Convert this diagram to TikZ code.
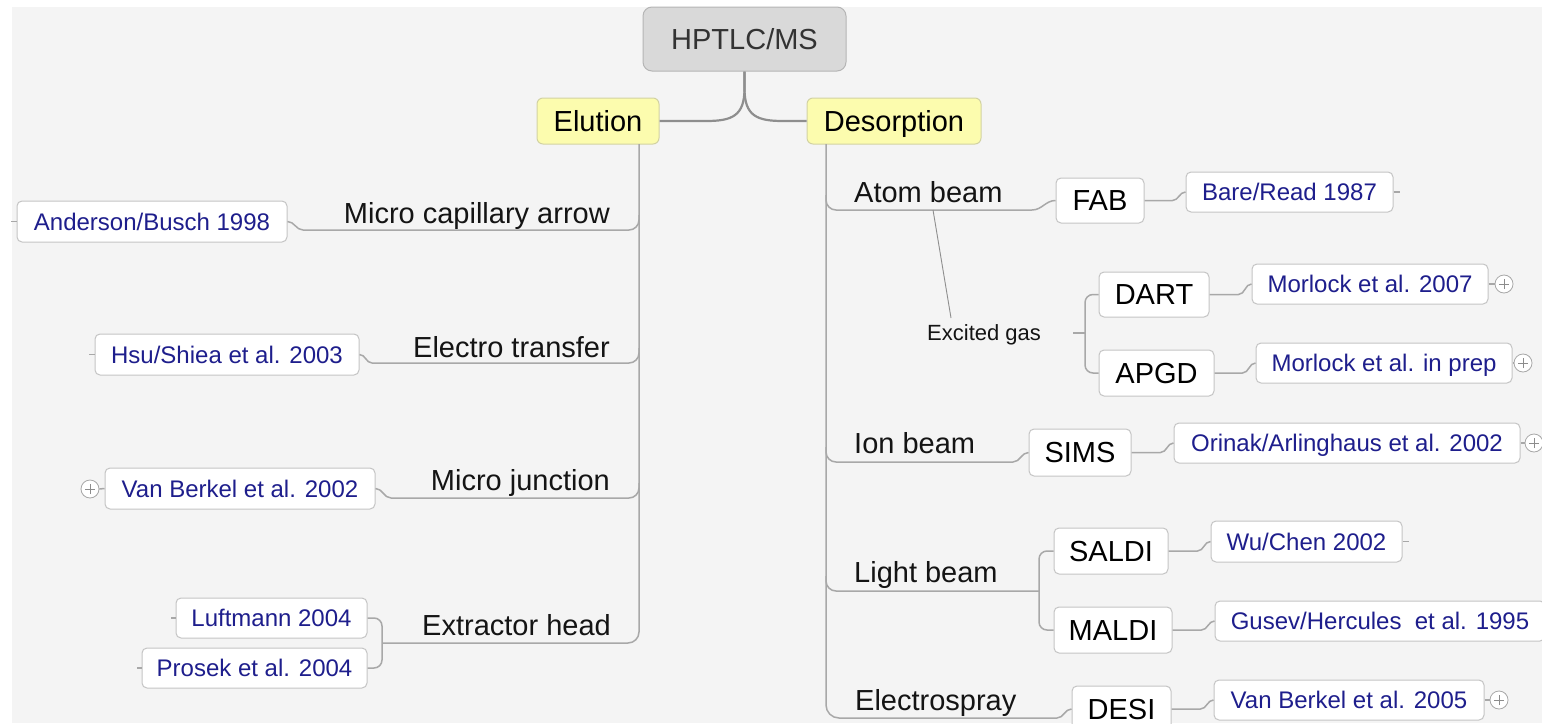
\documentclass[tikz,border=0pt]{standalone}
\usepackage{fontspec}
\setmainfont{Liberation Sans}
\definecolor{bgC}{HTML}{F4F4F4}
\definecolor{lineC}{HTML}{A8A8A8}
\definecolor{topLineC}{HTML}{8E8E8E}
\definecolor{boxB}{HTML}{C4C4C4}
\definecolor{navy}{HTML}{1E1E8C}
\definecolor{topF}{HTML}{D9D9D9}
\definecolor{topB}{HTML}{B5B5B5}
\definecolor{yelF}{HTML}{FCFCAE}
\definecolor{yelB}{HTML}{D2D2A2}
\begin{document}
\begin{tikzpicture}[x=1pt,y=-1pt,
  conn/.style={draw=lineC, line width=1.5pt},
  topconn/.style={draw=topLineC, line width=2.2pt},
  relconn/.style={draw=topLineC, line width=0.9pt},
  box/.style={draw=boxB, fill=white, rounded corners=5pt, line width=1pt, inner sep=0pt, text=black, font=\fontsize{29}{32}\selectfont, text height=20.8pt, text depth=0pt},
  refbox/.style={box, text=navy, font=\fontsize{24}{27}\selectfont, text height=17.2pt, text depth=0pt},
  topic/.style={inner sep=0pt, text=black!92, font=\fontsize{29}{32}\selectfont},
  plusc/.style={circle, draw=boxB!85!black, fill=white, minimum size=18pt, inner sep=0pt, line width=0.8pt,
    path picture={\draw[black!45, line width=0.9pt] ([xshift=-5pt]path picture bounding box.center) -- ([xshift=5pt]path picture bounding box.center) ([yshift=-5pt]path picture bounding box.center) -- ([yshift=5pt]path picture bounding box.center);}},
]
\useasboundingbox (0,0) rectangle (1542,723);
\clip (0,0) rectangle (1542,723);
\fill[white] (0,0) rectangle (1542,723);
\fill[bgC] (12,7) rectangle (1542,723);

% main nodes
\node[draw=topB, fill=topF, rounded corners=9pt, line width=1pt, minimum width=203pt, minimum height=64pt, text=black!80, font=\fontsize{29}{32}\selectfont, text height=20.8pt, text depth=0pt] (top) at (744.5,39) {HPTLC/MS};
\node[draw=yelB, fill=yelF, rounded corners=6pt, line width=1pt, minimum width=122pt, minimum height=46pt, font=\fontsize{29}{32}\selectfont, text height=20.8pt, text depth=0pt] (elu) at (598,121) {Elution};
\node[draw=yelB, fill=yelF, rounded corners=6pt, line width=1pt, minimum width=174pt, minimum height=46pt, font=\fontsize{29}{32}\selectfont, text height=20.8pt, text depth=0pt] (des) at (894,121) {Desorption};

\draw[topconn] (top.south) -- ++(0,17) .. controls (744.5,116) and (732,121) .. (706,121) -- (elu.east);
\draw[topconn] (top.south) -- ++(0,17) .. controls (744.5,116) and (757,121) .. (783,121) -- (des.west);

% ---------- Elution side ----------
\coordinate (eluT) at (639,144);
\node[topic, anchor=base east] (mca) at (610,223) {Micro capillary arrow};
\node[topic, anchor=base east] (et) at (610,357) {Electro transfer};
\node[topic, anchor=base east] (mj) at (610,490) {Micro junction};
\node[topic, anchor=base east] (eh) at (611,635) {Extractor head};

\node[refbox, minimum width=270pt, minimum height=41pt] (and) at (152,221.5) {Anderson/Busch 1998};
\node[refbox, minimum width=264pt, minimum height=41pt] (hsu) at (227,354.5) {Hsu/Shiea et al. 2003};
\node[refbox, minimum width=270pt, minimum height=41pt] (vb02) at (240,488.5) {Van Berkel et al. 2002};
\node[refbox, minimum width=191pt, minimum height=40pt] (luft) at (271.5,618) {Luftmann 2004};
\node[refbox, minimum width=225pt, minimum height=40pt] (pros) at (254.5,668) {Prosek et al. 2004};

\draw[conn, rounded corners=11pt] (eluT) |- (382,643);
\draw[conn, rounded corners=10pt] (639,215) |- (303,230);
\draw[conn, rounded corners=10pt] (639,348) |- (372,363);
\draw[conn, rounded corners=10pt] (639,483) |- (391,498);
\draw[conn] (303,230) to[out=180,in=0] (and.east);
\draw[conn] (372,363) to[out=180,in=0] (hsu.east);
\draw[conn] (391,498) to[out=180,in=0] (vb02.east);
\draw[conn, rounded corners=8pt] (luft.east) -| (382,643) |- (pros.east);

\draw[conn] (and.west) -- (11,221.5);
\draw[conn] (hsu.west) -- ++(-6,0);
\draw[conn] (luft.west) -- ++(-5,0);
\draw[conn] (pros.west) -- ++(-5,0);
\node[plusc] (p1) at (90,489) {};
\draw[conn] (vb02.west) -- (p1.east);

% ---------- Desorption side ----------
\coordinate (desT) at (826,144);
\node[topic, anchor=base west] (ab) at (854,202) {Atom beam};
\node[topic, anchor=base west] (ib) at (854,453) {Ion beam};
\node[topic, anchor=base west] (lb) at (854,582) {Light beam};
\node[topic, anchor=base west] (es) at (855,710) {Electrospray};
\node[inner sep=0pt, anchor=base west, text=black!92, font=\fontsize{22}{24}\selectfont] (eg) at (927,340) {Excited gas};

\node[box, minimum width=88pt, minimum height=45pt] (fab) at (1100,200.5) {FAB};
\node[box, minimum width=110pt, minimum height=45pt] (dart) at (1154,294.5) {DART};
\node[box, minimum width=115pt, minimum height=46pt] (apgd) at (1156.5,373) {APGD};
\node[box, minimum width=102pt, minimum height=47pt] (sims) at (1080,452.5) {SIMS};
\node[box, minimum width=114pt, minimum height=46pt] (saldi) at (1111,551) {SALDI};
\node[box, minimum width=118pt, minimum height=46pt] (maldi) at (1113,630) {MALDI};
\node[box, minimum width=99pt, minimum height=46pt] (desi) at (1121.5,709) {DESI};

\node[refbox, minimum width=207pt, minimum height=40pt] (bare) at (1289.5,192) {Bare/Read 1987};
\node[refbox, minimum width=236pt, minimum height=40pt] (mor07) at (1370,284) {Morlock et al. 2007};
\node[refbox, minimum width=256pt, minimum height=40pt] (morprep) at (1384,363) {Morlock et al. in prep};
\node[refbox, minimum width=346pt, minimum height=40pt] (orinak) at (1347,443) {Orinak/Arlinghaus et al. 2002};
\node[refbox, minimum width=191pt, minimum height=41pt] (wu) at (1306.5,541.5) {Wu/Chen 2002};
\node[refbox, minimum width=330pt, minimum height=40pt] (gusev) at (1380,621) {Gusev/Hercules\ \ et al. 1995};
\node[refbox, minimum width=270pt, minimum height=40pt] (vb05) at (1349,700) {Van Berkel et al. 2005};

\draw[conn, rounded corners=13pt] (desT) |- (1057,718);
\draw[conn] (1057,718) to[out=0,in=180] (desi.west);
\draw[conn, rounded corners=10pt] (826,195) |- (1032,210);
\draw[conn] (1032,210) to[out=0,in=180] (fab.west);
\draw[conn, rounded corners=10pt] (826,447) |- (1013,462);
\draw[conn] (1013,462) to[out=0,in=180] (sims.west);
\draw[conn, rounded corners=10pt] (826,576) |- (1039,591);
\draw[conn, rounded corners=8pt] (saldi.west) -| (1039,591) |- (maldi.west);

% excited gas relation
\coordinate (egA) at (933,210);
\coordinate (egB) at (951,318);
\draw[relconn] (egA) -- (egB);
\coordinate (egS) at (1073,333);
\draw[conn] (egS) -- (1085,333);
\draw[conn, rounded corners=8pt] (dart.west) -| (1085,333) |- (apgd.west);

% second level connectors
\draw[conn] (fab.east) -- ++(28,0) to[out=0,in=180] (bare.west);
\draw[conn] (dart.east) -- ++(29,0) to[out=0,in=180] (mor07.west);
\draw[conn] (apgd.east) -- ++(28,0) to[out=0,in=180] (morprep.west);
\draw[conn] (sims.east) -- ++(29,0) to[out=0,in=180] (orinak.west);
\draw[conn] (saldi.east) -- ++(29,0) to[out=0,in=180] (wu.west);
\draw[conn] (maldi.east) -- ++(29,0) to[out=0,in=180] (gusev.west);
\draw[conn] (desi.east) -- ++(29,0) to[out=0,in=180] (vb05.west);

\draw[conn] (bare.east) -- ++(6,0);
\draw[conn] (wu.east) -- ++(6,0);
\node[plusc] (p2) at (1504,284) {};
\node[plusc] (p3) at (1523,363) {};
\node[plusc] (p4) at (1534,443) {};
\node[plusc] (p5) at (1499,700) {};
\draw[conn] (mor07.east) -- (p2.west);
\draw[conn] (morprep.east) -- (p3.west);
\draw[conn] (orinak.east) -- (p4.west);
\draw[conn] (vb05.east) -- (p5.west);
\end{tikzpicture}
\end{document}
